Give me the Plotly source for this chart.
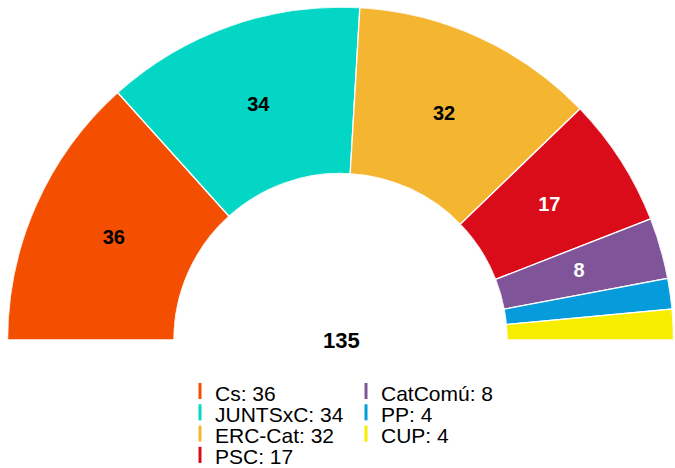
import plotly.graph_objects as go

parties = ["Cs", "JUNTSxC", "ERC-Cat", "PSC", "CatComú", "PP", "CUP"]
seats = [36, 34, 32, 17, 8, 4, 4]
colors = ["#F44E00", "#03D6C4", "#F4B630", "#DA0C19", "#805499", "#069BDA", "#F7ED00"]
label_colors = ["black", "black", "black", "white", "white", "black", "black"]
show_label = [True, True, True, True, True, False, False]
legend_col = [0, 0, 0, 0, 1, 1, 1]
legend_row = [0, 1, 2, 3, 0, 1, 2]
total = sum(seats)

W, H = 675, 468
FONT = "Liberation Sans, Arial, sans-serif"

deg_per_seat = 180.0 / total
thetas, widths = [], []
cum = 0
for s in seats:
    thetas.append((cum + s / 2) * deg_per_seat)
    widths.append(s * deg_per_seat)
    cum += s

fig = go.Figure()
fig.add_trace(go.Barpolar(
    r=[1] * len(seats), theta=thetas, width=widths,
    marker=dict(color=colors, line=dict(color="white", width=1.3)),
    showlegend=False, hoverinfo="skip",
))

lab_idx = [i for i, v in enumerate(show_label) if v]
fig.add_trace(go.Scatterpolar(
    r=[0.49] * len(lab_idx), theta=[thetas[i] for i in lab_idx],
    mode="text", text=[str(seats[i]) for i in lab_idx],
    textfont=dict(color=[label_colors[i] for i in lab_idx], size=20,
                  family=FONT, weight="bold"),
    showlegend=False, hoverinfo="skip",
))

# legend drawn on a hidden cartesian grid: columns x rows
col_px0, col_step = 200, 166       # pixel x of column 0 symbol, column spacing
row_px0, row_step = 391, 21.3      # pixel y of row 0 symbol, row spacing
x0 = -col_px0 / col_step
y_top = -row_px0 / row_step

fig.add_trace(go.Scatter(
    x=legend_col, y=legend_row, mode="markers",
    marker=dict(symbol="line-ns", size=11.5, color=colors,
                line=dict(color=colors, width=3)),
    showlegend=False, hoverinfo="skip", cliponaxis=False,
))

annotations = []
for p, s, c, r in zip(parties, seats, legend_col, legend_row):
    annotations.append(dict(
        x=c, y=r, xref="x", yref="y", text=f"{p}: {s}", showarrow=False,
        xanchor="left", yanchor="middle", xshift=13, yshift=-2,
        font=dict(size=21, family=FONT, color="black"),
    ))
annotations.append(dict(
    text=str(total), x=341.5 / W, y=1 - 340.5 / H, xref="paper", yref="paper",
    xanchor="center", yanchor="middle", showarrow=False,
    font=dict(size=22, family=FONT, color="black", weight="bold"),
))

fig.update_layout(
    width=W, height=H,
    margin=dict(l=0, r=0, t=0, b=0, pad=0),
    paper_bgcolor="white", plot_bgcolor="rgba(0,0,0,0)",
    showlegend=False,
    polar=dict(
        domain=dict(x=[7 / W, 674 / W], y=[1 - 340 / H, 1 - 7 / H]),
        sector=[0, 180], hole=0.5, bargap=0,
        bgcolor="white",
        radialaxis=dict(range=[0, 1], visible=False),
        angularaxis=dict(visible=False, direction="clockwise", rotation=180),
    ),
    xaxis=dict(domain=[0, 1], range=[x0, x0 + W / col_step], visible=False, fixedrange=True),
    yaxis=dict(domain=[0, 1], range=[y_top + H / row_step, y_top], visible=False, fixedrange=True),
    annotations=annotations,
)

fig.write_html("out.html", config={"displayModeBar": False},
               post_script="document.body.style.margin='0px';")
